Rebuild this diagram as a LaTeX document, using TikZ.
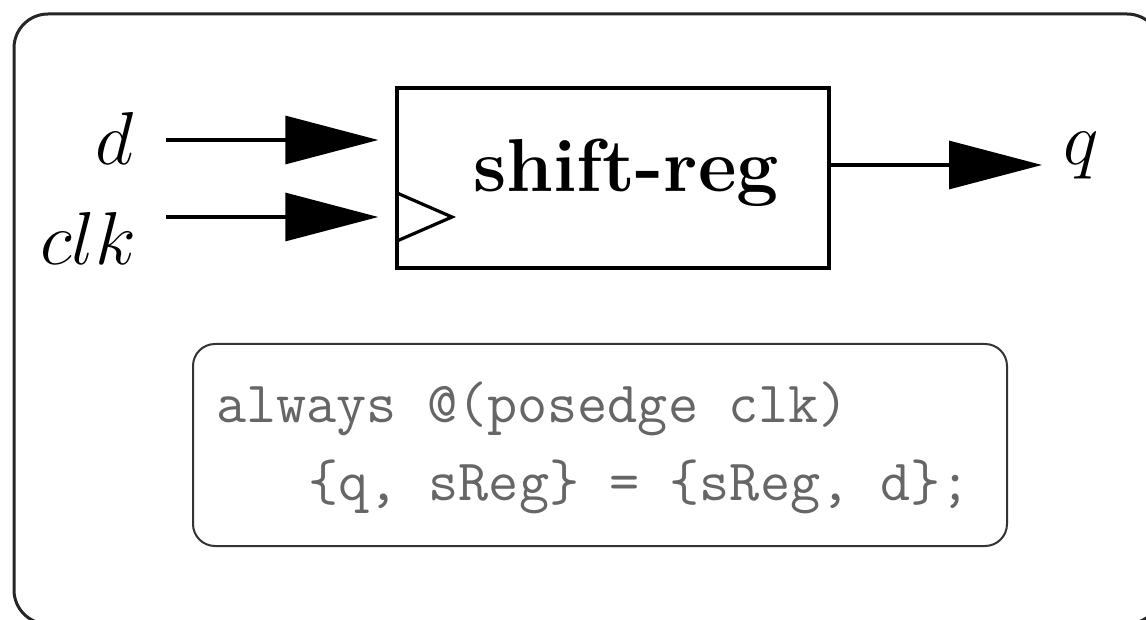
\RequirePackage{fix-cm}
\documentclass[tikz,border=0pt]{standalone}
\usepackage{fontspec}
\usetikzlibrary{arrows.meta}
\tikzset{
  wire/.style={line width=3.2pt, -{Triangle[length=93pt,width=48pt]}},
  labeltext/.style={inner sep=0pt, anchor=base, font=\fontsize{75}{90}\selectfont},
  codetext/.style={inner sep=0pt, anchor=base west, text=black!60, font=\ttfamily\fontsize{58.5}{70}\selectfont},
  regbox/.style={draw, line width=3.4pt, minimum width=432pt, minimum height=180pt, inner sep=0pt},
  codebox/.style={draw=black!80, line width=2pt, rounded corners=22pt, minimum width=814pt, minimum height=202pt, inner sep=0pt},
}
\begin{document}
\begin{tikzpicture}[x=1pt,y=-1pt]
  \clip (0,0) rectangle (1146,620);
  \fill[white] (0,0) rectangle (1146,620);
  % outer frame
  \draw[line width=3pt, draw=black!85, rounded corners=34pt] (14,14) rectangle (1161,624);
  % register
  \node[regbox] (sr) at (613,178) {};
  \node[labeltext, font=\fontsize{75}{90}\selectfont\bfseries] (srl) at (626,192) {shift-reg};
  \draw[line width=3.2pt, line join=miter] (397,193) coordinate (ck1) -- (452,217) coordinate (ck2) -- (397,241) coordinate (ck3);
  % inputs
  \coordinate (din) at (166,140);
  \coordinate (cin) at (166,217);
  \coordinate (qout) at (1042,165);
  \draw[wire, shorten >=17pt] (din) -- (din -| sr.west);
  \draw[wire, shorten >=17pt] (cin) -- (cin -| sr.west);
  \draw[wire] (qout -| sr.east) -- (qout);
  \node[labeltext] (dl) at (115,165) {$d$};
  \node[labeltext] (cl) at (88,265) {$clk$};
  \node[labeltext] (ql) at (1081,165) {$q$};
  % code box
  \node[codebox] (cb) at (600,445) {};
  \node[codetext] (c1) at (216,422) {always @(posedge clk)};
  \node[codetext] (c2) at (308,500) {\{q, sReg\} = \{sReg, d\};};
\end{tikzpicture}
\end{document}
